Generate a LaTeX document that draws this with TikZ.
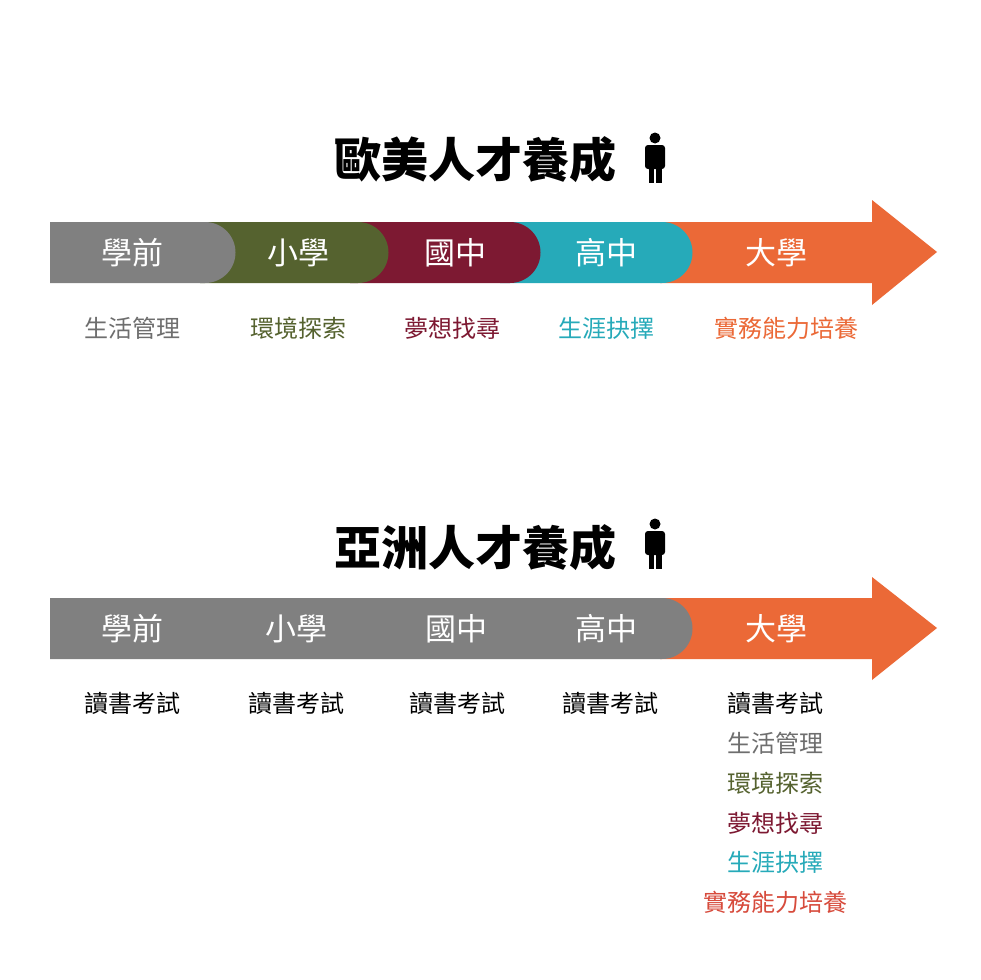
\documentclass[tikz,border=0pt]{standalone}
\usepackage{fontspec}
\setmainfont{Noto Sans CJK TC}
\usetikzlibrary{positioning}
\definecolor{segGray}{RGB}{128,128,128}
\definecolor{segGreen}{RGB}{85,98,47}
\definecolor{segRed}{RGB}{125,25,50}
\definecolor{segTeal}{RGB}{38,170,185}
\definecolor{segOrange}{RGB}{235,105,55}
\definecolor{txtGray}{RGB}{110,110,110}
\definecolor{txtRed}{RGB}{215,75,60}
\tikzset{
  title/.style={font=\fontsize{47}{47}\selectfont\bfseries},
  stage/.style={text=white,font=\fontsize{31}{31}\selectfont},
  goal/.style={font=\fontsize{24}{24}\selectfont},
}
\newcommand{\personicon}[1]{%
  \fill (#1) ++(0,-20) circle (5.5);
  \fill[rounded corners=3] (#1) ++(-10,-13) rectangle ++(20,24);
  \fill (#1) ++(-6.5,5) rectangle ++(5.5,20);
  \fill (#1) ++(1,5) rectangle ++(5.5,20);
}
\begin{document}
\begin{tikzpicture}[x=1pt,y=-1pt]
\useasboundingbox (0,0) rectangle (980,980);
\fill[white] (0,0) rectangle (980,980);

% western
\node[title] (titleA) at (475,160) {歐美人才養成};
\personicon{655,158}
\fill[segOrange] (660,222) -- (872,222) -- (872,200) -- (937,252) -- (872,305) -- (872,283) -- (660,283) -- cycle;
\fill[segTeal] (500,222) -- (662,222) arc (-90:90:30.5) -- (500,283) -- cycle;
\fill[segRed] (350,222) -- (510,222) arc (-90:90:30.5) -- (350,283) -- cycle;
\fill[segGreen] (200,222) -- (358,222) arc (-90:90:30.5) -- (200,283) -- cycle;
\fill[segGray] (50,222) -- (205,222) arc (-90:90:30.5) -- (50,283) -- cycle;
\node[stage] (a1) at (132,253) {學前};
\node[stage] (a2) at (298,253) {小學};
\node[stage] (a3) at (455,253) {國中};
\node[stage] (a4) at (606,253) {高中};
\node[stage] (a5) at (776,253) {大學};
\node[goal,text=txtGray] (g1) at (132,328) {生活管理};
\node[goal,text=segGreen] (g2) at (298,328) {環境探索};
\node[goal,text=segRed] (g3) at (452,328) {夢想找尋};
\node[goal,text=segTeal] (g4) at (606,328) {生涯抉擇};
\node[goal,text=segOrange] (g5) at (786,328) {實務能力培養};

% asian
\node[title] (titleB) at (475,548) {亞洲人才養成};
\personicon{655,544}
\fill[segOrange] (660,598) -- (872,598) -- (872,577) -- (937,628) -- (872,680) -- (872,659) -- (660,659) -- cycle;
\fill[segGray] (50,598) -- (662,598) arc (-90:90:30.5) -- (50,659) -- cycle;
\node[stage] (b1) at (132,629) {學前};
\node[stage] (b2) at (296,629) {小學};
\node[stage] (b3) at (456,629) {國中};
\node[stage] (b4) at (606,629) {高中};
\node[stage] (b5) at (776,629) {大學};
\node[goal] (c1) at (132,703) {讀書考試};
\node[goal] (c2) at (296,703) {讀書考試};
\node[goal] (c3) at (457,703) {讀書考試};
\node[goal] (c4) at (610,703) {讀書考試};
\node[goal] (c5) at (775,703) {讀書考試};
\node[goal,text=txtGray] (d1) at (775,743) {生活管理};
\node[goal,text=segGreen] (d2) at (775,783) {環境探索};
\node[goal,text=segRed] (d3) at (775,823) {夢想找尋};
\node[goal,text=segTeal] (d4) at (775,862) {生涯抉擇};
\node[goal,text=txtRed] (d5) at (775,902) {實務能力培養};
\end{tikzpicture}
\end{document}
